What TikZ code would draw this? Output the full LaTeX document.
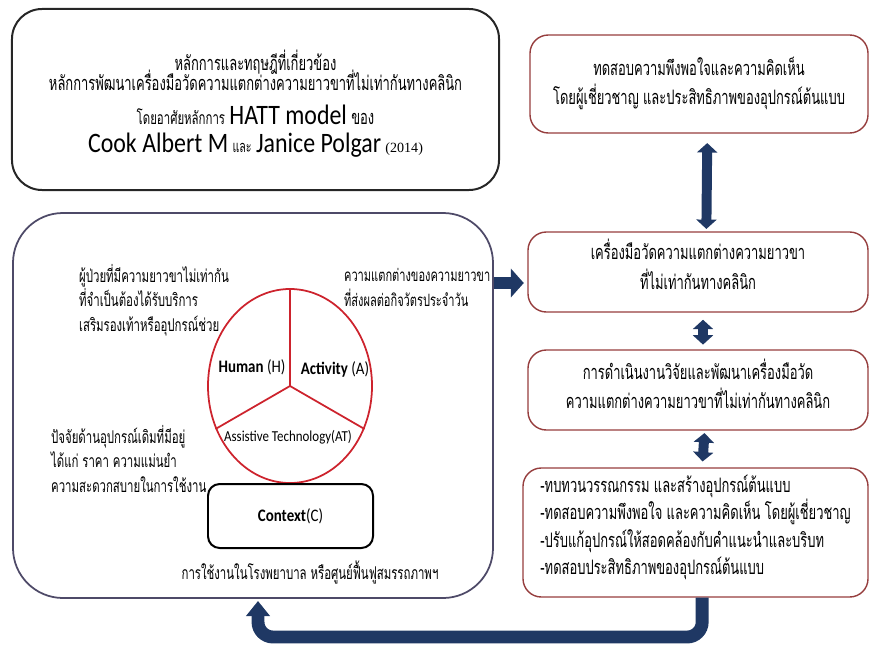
\documentclass[tikz,border=0pt]{standalone}
\usepackage{fontspec}
\usetikzlibrary{arrows.meta,positioning,shapes.geometric}
\newfontfamily\thai[Script=Thai,FakeStretch=0.65]{Loma}
\newfontfamily\latinsans[FakeStretch=0.85]{Carlito}
\newfontfamily\latinserif{Liberation Serif}
\newcommand\tightlines{\lineskiplimit=-50pt\relax}
\definecolor{navy}{RGB}{31,56,100}
\definecolor{boxred}{RGB}{150,62,62}
\definecolor{wheelred}{RGB}{205,35,45}
\definecolor{framegray}{RGB}{78,74,104}

\begin{document}
\begin{tikzpicture}[x=0.03cm,y=-0.03cm,
  box/.style={draw=boxred,line width=1.2pt,rounded corners=0.55cm,minimum width=10.2cm,minimum height=2.4cm,align=center,text depth=11pt,font=\thai\fontsize{17}{25}\selectfont},
  note/.style={align=left,anchor=west,font=\thai\fontsize{15}{21}\selectfont},
  label/.style={font=\latinsans\fontsize{15}{17}\selectfont},
  flow/.style={navy,line width=8.5pt,{Triangle[width=17pt,length=8pt]}-{Triangle[width=17pt,length=8pt]}},
  push/.style={navy,line width=11pt,-{Triangle[width=24pt,length=11pt]}}]
\useasboundingbox (0,0) rectangle (880,646);

\node[draw=black!85,line width=1.7pt,rounded corners=0.9cm,minimum width=14.61cm,minimum height=5.43cm,align=center,font={\thai\fontsize{17}{17}\selectfont\tightlines}] (theory) at (255.5,99.5)
  {\rule{0pt}{25pt}หลักการและทฤษฎีที่เกี่ยวข้อง\\ หลักการพัฒนาเครื่องมือวัดความแตกต่างความยาวขาที่ไม่เท่ากันทางคลินิก\\[12pt] {\fontsize{15}{20}\selectfont โดยอาศัยหลักการ} {\latinsans\fontsize{24}{26}\selectfont HATT model} ของ\\[7pt] {\latinsans\fontsize{24}{26}\selectfont Cook Albert M} {\fontsize{14}{20}\selectfont และ} {\latinsans\fontsize{24}{26}\selectfont Janice Polgar} {\latinserif\fontsize{12}{14}\selectfont (2014)}};

\node[draw=framegray,line width=1.5pt,rounded corners=1.5cm,minimum width=14.4cm,minimum height=11.55cm] (model) at (253,405.5) {};

\node[box,minimum width=10.14cm,minimum height=2.94cm,text depth=6pt] (survey) at (699,84) {ทดสอบความพึงพอใจและความคิดเห็น\\ โดยผู้เชี่ยวชาญ และประสิทธิภาพของอุปกรณ์ต้นแบบ};
\node[box,text depth=13pt] (tool) at (698,272) {เครื่องมือวัดความแตกต่างความยาวขา\\ ที่ไม่เท่ากันทางคลินิก};
\node[box] (research) at (698,390) {การดำเนินงานวิจัยและพัฒนาเครื่องมือวัด\\ ความแตกต่างความยาวขาที่ไม่เท่ากันทางคลินิก};
\node[box,minimum width=10.35cm,minimum height=3.87cm,align=left,text depth=13pt,font=\thai\fontsize{17}{23.5}\selectfont] (steps) at (695.5,532.5)
  {-ทบทวนวรรณกรรม และสร้างอุปกรณ์ต้นแบบ\\ -ทดสอบความพึงพอใจ และความคิดเห็น โดยผู้เชี่ยวชาญ\\ -ปรับแก้อุปกรณ์ให้สอดคล้องกับคำแนะนำและบริบท\\ -ทดสอบประสิทธิภาพของอุปกรณ์ต้นแบบ};

\node[ellipse,draw=wheelred,line width=1.5pt,minimum width=4.92cm,minimum height=5.82cm] (hatt) at (290,386) {};
\draw[wheelred,line width=1.5pt] (hatt.center) -- (hatt.north);
\draw[wheelred,line width=1.5pt] (hatt.center) -- (hatt.210);
\draw[wheelred,line width=1.5pt] (hatt.center) -- (hatt.330);
\node[label] (human) at (252,367) {\textbf{Human} (H)};
\node[label] (activity) at (335,369) {\textbf{Activity} (A)};
\node[label,font=\latinsans\fontsize{13}{15}\selectfont] (assist) at (288,437) {Assistive Technology(AT)};

\node[draw=black,line width=1.7pt,rounded corners=0.35cm,minimum width=4.95cm,minimum height=1.92cm,label] (context) at (290.5,516) {\textbf{Context}(C)};

\node[note] (patient) at (75,300) {ผู้ป่วยที่มีความยาวขาไม่เท่ากัน\\ ที่จำเป็นต้องได้รับบริการ\\ เสริมรองเท้าหรืออุปกรณ์ช่วย};
\node[note,font=\thai\fontsize{14.5}{21}\selectfont] (effect) at (340,287.5) {ความแตกต่างของความยาวขา\\ ที่ส่งผลต่อกิจวัตรประจำวัน};
\node[note] (device) at (47,459) {ปัจจัยด้านอุปกรณ์เดิมที่มีอยู่\\ ได้แก่ ราคา ความแม่นยำ\\ ความสะดวกสบายในการใช้งาน};
\node[note,anchor=center] (setting) at (310,572) {การใช้งานในโรงพยาบาล หรือศูนย์ฟื้นฟูสมรรถภาพฯ};

\draw[flow,shorten <=8pt,shorten >=2pt] ([xshift=0.25cm]survey.south) -- ([xshift=0.25cm]tool.north);
\draw[flow,shorten <=6pt,shorten >=4pt] ([xshift=0.15cm]tool.south) -- ([xshift=0.15cm]research.north);
\draw[flow,shorten <=2pt,shorten >=5pt] ([xshift=0.2cm]research.south) -- ([xshift=0.2cm]steps.north);
\draw[push,shorten >=3pt] (model.east |- 0,283) -- (tool.west |- 0,283);
\coordinate (turn) at (258,637);
\coordinate (back) at (258,601);
\draw[push,rounded corners=0.45cm,-{Triangle[width=20pt,length=13pt]}] ([xshift=0.2cm]steps.south) |- (turn) -- (back);
\end{tikzpicture}
\end{document}
